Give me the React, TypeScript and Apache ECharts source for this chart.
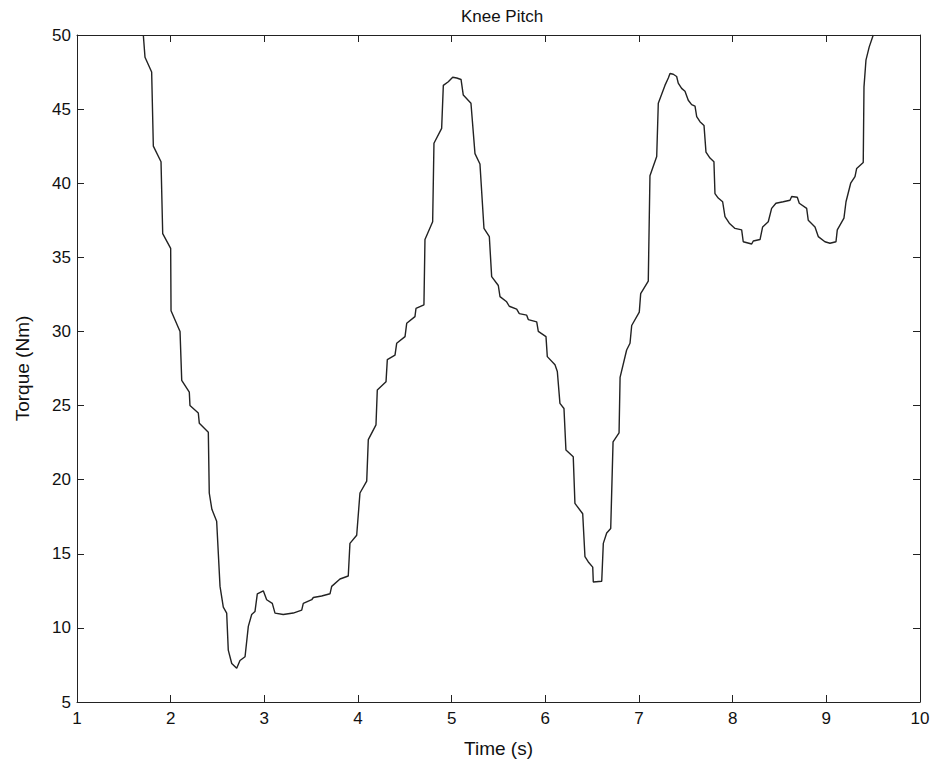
import React, { useEffect, useRef } from "react";
import * as echarts from "echarts";

const timeS: number[] = [
  1.708, 1.726, 1.797, 1.815, 1.897, 1.915, 2.0, 2.004, 2.1, 2.118, 2.199, 2.206, 2.295, 2.306, 2.402,
  2.412, 2.44, 2.491, 2.527, 2.562, 2.598, 2.615, 2.652, 2.705, 2.74, 2.794, 2.829, 2.865, 2.9, 2.925,
  2.989, 3.025, 3.085, 3.114, 3.202, 3.309, 3.399, 3.416, 3.506, 3.523, 3.612, 3.701, 3.719, 3.808,
  3.896, 3.914, 3.986, 4.021, 4.093, 4.11, 4.192, 4.206, 4.299, 4.313, 4.395, 4.413, 4.502, 4.52,
  4.608, 4.619, 4.704, 4.715, 4.797, 4.811, 4.893, 4.911, 4.964, 5.011, 5.054, 5.1, 5.124, 5.206,
  5.249, 5.302, 5.345, 5.402, 5.427, 5.498, 5.516, 5.587, 5.615, 5.694, 5.722, 5.801, 5.818, 5.908,
  5.925, 6.007, 6.021, 6.103, 6.128, 6.156, 6.199, 6.22, 6.298, 6.316, 6.399, 6.423, 6.459, 6.506,
  6.512, 6.602, 6.619, 6.655, 6.698, 6.723, 6.787, 6.798, 6.868, 6.904, 6.922, 7.003, 7.018, 7.099,
  7.117, 7.189, 7.206, 7.277, 7.313, 7.331, 7.366, 7.402, 7.419, 7.455, 7.491, 7.526, 7.562, 7.598,
  7.616, 7.651, 7.694, 7.715, 7.758, 7.8, 7.811, 7.846, 7.893, 7.918, 7.964, 8.025, 8.096, 8.113,
  8.203, 8.22, 8.292, 8.32, 8.38, 8.416, 8.462, 8.54, 8.612, 8.63, 8.69, 8.711, 8.79, 8.807, 8.879,
  8.914, 8.985, 9.039, 9.103, 9.117, 9.188, 9.21, 9.26, 9.306, 9.324, 9.394, 9.402, 9.423, 9.458, 9.501,
];

const torqueNm: number[] = [
  50.0, 48.5, 47.5, 42.5, 41.45, 36.6, 35.6, 31.4, 30.0, 26.7, 25.9, 25.0, 24.5, 23.8, 23.2,
  19.1, 18.0, 17.2, 12.8, 11.4, 11.0, 8.5, 7.6, 7.27, 7.8, 8.05, 10.1, 10.9, 11.1, 12.3,
  12.5, 11.9, 11.65, 11.0, 10.9, 11.0, 11.2, 11.65, 11.9, 12.05, 12.15, 12.3, 12.8, 13.3,
  13.5, 15.7, 16.25, 19.1, 19.9, 22.7, 23.7, 26.05, 26.6, 28.1, 28.4, 29.2, 29.65, 30.55,
  31.0, 31.55, 31.8, 36.2, 37.4, 42.7, 43.7, 46.6, 46.85, 47.15, 47.1, 47.0, 45.95, 45.4,
  42.0, 41.3, 36.95, 36.4, 33.7, 33.1, 32.35, 32.0, 31.7, 31.5, 31.2, 31.1, 30.8, 30.65,
  30.0, 29.65, 28.3, 27.75, 27.3, 25.15, 24.8, 22.0, 21.55, 18.4, 17.7, 14.8, 14.45, 14.1,
  13.1, 13.15, 15.7, 16.4, 16.7, 22.55, 23.15, 26.9, 28.75, 29.2, 30.4, 31.3, 32.55, 33.4,
  40.5, 41.8, 45.4, 46.6, 47.1, 47.4, 47.35, 47.2, 46.75, 46.4, 46.2, 45.6, 45.3, 45.2,
  44.5, 44.15, 43.9, 42.1, 41.7, 41.45, 39.3, 39.0, 38.75, 37.75, 37.3, 36.95, 36.85, 36.05,
  35.9, 36.1, 36.2, 37.05, 37.4, 38.3, 38.65, 38.75, 38.85, 39.1, 39.05, 38.65, 38.3, 37.5, 37.05,
  36.4, 36.05, 35.95, 36.05, 36.85, 37.65, 38.75, 40.0, 40.45, 41.0, 41.4, 46.5, 48.3, 49.2, 50.0,
];

const xTicks = { min: 1, max: 10, interval: 1 };
const yTicks = { min: 5, max: 50, interval: 5 };

export default function App() {
  const ref = useRef<HTMLDivElement>(null);
  useEffect(() => {
    if (!ref.current) return;
    const chart = echarts.init(ref.current, null, { renderer: "svg" });
    const font = "'Liberation Sans', Arial, Helvetica, sans-serif";
    const axisLine = { show: true, lineStyle: { color: "#222", width: 1 } };
    const tick = { show: true, inside: true, length: 7, lineStyle: { color: "#222", width: 1 } };
    chart.setOption({
      animation: false,
      backgroundColor: "#fff",
      title: {
        text: "Knee Pitch",
        left: 497,
        top: 3,
        textAlign: "center",
        textStyle: { fontFamily: font, fontSize: 17, fontWeight: "normal", color: "#111" },
      },
      grid: { left: 77, top: 35, right: 13, bottom: 65, containLabel: false },
      xAxis: [
        {
          type: "value",
          min: xTicks.min,
          max: xTicks.max,
          interval: xTicks.interval,
          position: "bottom",
          name: "Time (s)",
          nameLocation: "middle",
          nameGap: 37,
          nameTextStyle: { fontFamily: font, fontSize: 19, color: "#111" },
          axisLine,
          axisTick: tick,
          splitLine: { show: false },
          axisLabel: { fontFamily: font, fontSize: 17, color: "#111", margin: 8 },
        },
        {
          type: "value",
          min: xTicks.min,
          max: xTicks.max,
          interval: xTicks.interval,
          position: "top",
          axisLine,
          axisTick: tick,
          splitLine: { show: false },
          axisLabel: { show: false },
        },
      ],
      yAxis: [
        {
          type: "value",
          min: yTicks.min,
          max: yTicks.max,
          interval: yTicks.interval,
          position: "left",
          name: "Torque (Nm)",
          nameLocation: "middle",
          nameGap: 45,
          nameTextStyle: { fontFamily: font, fontSize: 19, color: "#111" },
          axisLine,
          axisTick: tick,
          splitLine: { show: false },
          axisLabel: { fontFamily: font, fontSize: 17, color: "#111", margin: 6 },
        },
        {
          type: "value",
          min: yTicks.min,
          max: yTicks.max,
          interval: yTicks.interval,
          position: "right",
          axisLine,
          axisTick: tick,
          splitLine: { show: false },
          axisLabel: { show: false },
        },
      ],
      series: [
        {
          type: "line",
          xAxisIndex: 0,
          yAxisIndex: 0,
          data: timeS.map((t, i) => [t, torqueNm[i]]),
          showSymbol: false,
          symbol: "none",
          lineStyle: { color: "#222", width: 1.4 },
          clip: true,
        },
      ],
    });
    return () => chart.dispose();
  }, []);
  return (
    <div
      ref={ref}
      style={{ position: "fixed", left: 0, top: 0, width: 933, height: 767, background: "#fff" }}
    />
  );
}
